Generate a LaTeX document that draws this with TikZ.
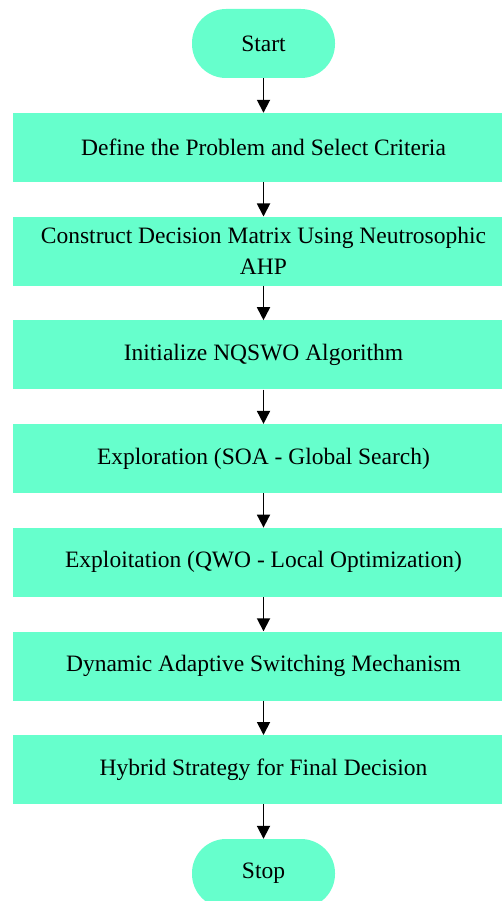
\documentclass[tikz,border=0pt]{standalone}
\usepackage{fontspec}
\setmainfont{Liberation Serif}
\usetikzlibrary{arrows.meta}
\definecolor{mint}{RGB}{102,255,204}

\def\xc{263.5}
\def\dy{103.7}

\begin{document}
\begin{tikzpicture}[x=1pt,y=1pt]
\tikzstyle{terminal}=[fill=mint,rounded corners=34pt,minimum width=143pt,minimum height=69pt,inner sep=0pt,font=\fontsize{23.5}{31}\selectfont]
\tikzstyle{etape}=[fill=mint,minimum width=501pt,minimum height=69pt,inner sep=0pt,align=center,font=\fontsize{23.5}{31}\selectfont]
\tikzstyle{fleche}=[-{Stealth[length=13pt,width=13pt,inset=0pt]},line width=1.8pt]

\useasboundingbox (0,0) rectangle (502,-901);

\node[terminal] (start) at (\xc,-43.5) {Start};
\node[etape] (e1) at (\xc,-147.5) {Define the Problem and Select Criteria};
\node[etape] (e2) at (\xc,-147.5-1*\dy) {Construct Decision Matrix Using Neutrosophic\\AHP};
\node[etape] (e3) at (\xc,-147.5-2*\dy) {Initialize NQSWO Algorithm};
\node[etape] (e4) at (\xc,-147.5-3*\dy) {Exploration (SOA - Global Search)};
\node[etape] (e5) at (\xc,-147.5-4*\dy) {Exploitation (QWO - Local Optimization)};
\node[etape] (e6) at (\xc,-147.5-5*\dy) {Dynamic Adaptive Switching Mechanism};
\node[etape] (e7) at (\xc,-147.5-6*\dy) {Hybrid Strategy for Final Decision};
\node[terminal] (stop) at (\xc,-873.5) {Stop};

\draw[fleche] (start)--(e1) ;
\draw[fleche] (e1)--(e2) ;
\draw[fleche] (e2)--(e3) ;
\draw[fleche] (e3)--(e4) ;
\draw[fleche] (e4)--(e5) ;
\draw[fleche] (e5)--(e6) ;
\draw[fleche] (e6)--(e7) ;
\draw[fleche] (e7)--(stop) ;

\end{tikzpicture}
\end{document}
